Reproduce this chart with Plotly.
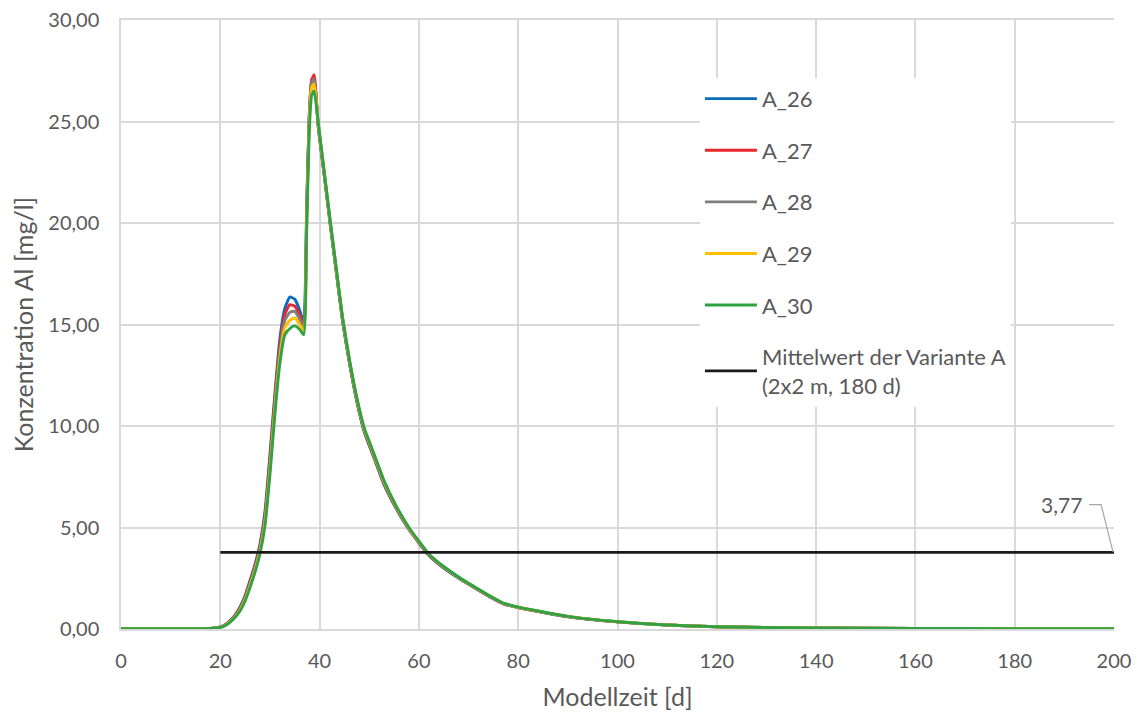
import plotly.graph_objects as go

# ---- data ----
days = [0, 10, 18, 20, 21, 22, 23, 24, 25, 26, 27, 28, 29, 30, 31, 32, 33, 34, 35, 36,
        36.8, 37.4, 37.9, 38.4, 38.9, 39.7, 41, 42.2, 43.3, 44.6, 46, 47.5, 49, 51, 53,
        55.5, 58, 62, 65, 70, 77, 80, 90, 100, 110, 120, 140, 160, 180, 200]

a26 = [0.02, 0.02, 0.03, 0.10, 0.22, 0.42, 0.70, 1.10, 1.65, 2.40, 3.20, 4.20, 5.80, 8.60,
       11.60, 14.30, 15.80, 16.35, 16.25, 15.70, 15.10, 20.80, 25.20, 27.00, 27.20, 24.80,
       22.20, 19.80, 17.70, 15.20, 13.10, 11.20, 9.70, 8.40, 7.10, 5.90, 4.90, 3.62, 3.00,
       2.20, 1.24, 1.05, 0.60, 0.35, 0.20, 0.11, 0.05, 0.03, 0.02, 0.02]
a27 = [0.02, 0.02, 0.03, 0.09, 0.20, 0.40, 0.67, 1.05, 1.58, 2.32, 3.10, 4.08, 5.60, 8.35,
       11.35, 14.00, 15.50, 15.98, 15.90, 15.45, 14.95, 20.60, 25.20, 27.05, 27.30, 24.85,
       22.25, 19.85, 17.75, 15.25, 13.15, 11.25, 9.75, 8.45, 7.15, 5.93, 4.92, 3.64, 3.02,
       2.22, 1.25, 1.06, 0.61, 0.35, 0.20, 0.11, 0.05, 0.03, 0.02, 0.02]
a28 = [0.02, 0.02, 0.03, 0.09, 0.19, 0.38, 0.64, 1.00, 1.52, 2.24, 3.00, 3.96, 5.42, 8.10,
       11.10, 13.70, 15.20, 15.60, 15.65, 15.25, 14.85, 20.30, 25.00, 26.90, 27.10, 24.90,
       22.30, 19.90, 17.80, 15.30, 13.20, 11.30, 9.80, 8.50, 7.20, 5.96, 4.94, 3.66, 3.04,
       2.23, 1.26, 1.07, 0.61, 0.36, 0.20, 0.11, 0.05, 0.03, 0.02, 0.02]
a29 = [0.02, 0.02, 0.03, 0.08, 0.18, 0.36, 0.61, 0.95, 1.45, 2.15, 2.90, 3.84, 5.25, 7.85,
       10.85, 13.40, 14.85, 15.20, 15.32, 15.00, 14.70, 20.00, 24.80, 26.70, 26.85, 24.95,
       22.35, 19.95, 17.85, 15.35, 13.25, 11.35, 9.85, 8.55, 7.25, 6.00, 4.97, 3.68, 3.06,
       2.24, 1.27, 1.07, 0.62, 0.36, 0.20, 0.11, 0.05, 0.03, 0.02, 0.02]
a30 = [0.02, 0.02, 0.03, 0.08, 0.17, 0.34, 0.58, 0.90, 1.38, 2.05, 2.80, 3.72, 5.08, 7.60,
       10.60, 13.10, 14.50, 14.80, 14.93, 14.75, 14.50, 19.60, 24.40, 26.30, 26.50, 25.00,
       22.40, 20.00, 17.90, 15.40, 13.30, 11.40, 9.90, 8.60, 7.30, 6.03, 5.00, 3.70, 3.08,
       2.25, 1.28, 1.08, 0.62, 0.36, 0.20, 0.11, 0.05, 0.03, 0.02, 0.02]

series_names = ["A_26", "A_27", "A_28", "A_29", "A_30"]
series_values = [a26, a27, a28, a29, a30]
series_colors = ["#0A6EBD", "#E8262B", "#7F7F7F", "#FFC000", "#30A244"]

mean_name = "Mittelwert der Variante A<br>(2x2 m, 180 d)"
mean_x = [20, 200]
mean_value = 3.77
mean_label = "3,77"

x_ticks = list(range(0, 201, 20))
y_ticks = [0, 5, 10, 15, 20, 25, 30]

# ---- figure ----
FONT = "Lato, 'Open Sans', sans-serif"
TXT = "#595959"
GRID = "#D9D9D9"

fig = go.Figure()
for i, (name, vals, col) in enumerate(zip(series_names, series_values, series_colors)):
    fig.add_trace(go.Scatter(
        x=days, y=vals, name=name, mode="lines",
        line=dict(color=col, width=2.9, shape="spline", smoothing=0.5),
        legendgroup=f"g{i}",
    ))

fig.add_trace(go.Scatter(
    x=mean_x, y=[mean_value, mean_value], name=mean_name, mode="lines",
    line=dict(color="#1A1A1A", width=2.8), legendgroup="gm",
))

# data label with elbow leader line anchored at the end of the mean line
xe = mean_x[-1]
ly = mean_value + 2.36
fig.add_shape(type="path", xref="x", yref="y",
              path=f"M {xe - 5.0},{ly} L {xe - 2.6},{ly} L {xe - 0.2},{mean_value + 0.02}",
              line=dict(color="#A6A6A6", width=1.2))
fig.add_annotation(x=xe - 6.0, y=ly, text=mean_label, showarrow=False,
                   xanchor="right", yanchor="middle",
                   font=dict(family=FONT, size=21, color=TXT))

fig.update_layout(
    width=1140, height=718,
    margin=dict(l=113, r=34, t=12, b=97, autoexpand=False),
    paper_bgcolor="white", plot_bgcolor="white",
    separators=",.",
    font=dict(family=FONT, size=20, color=TXT),
    showlegend=True,
    legend=dict(
        x=0.583, y=0.905, xanchor="left", yanchor="top",
        bgcolor="white", borderwidth=0,
        font=dict(family=FONT, size=22, color=TXT),
        tracegroupgap=20, itemwidth=52,
    ),
    xaxis=dict(
        range=[0, 200], tickvals=x_ticks, ticks="",
        showgrid=True, gridcolor=GRID, gridwidth=1.5,
        showline=True, linecolor=GRID, linewidth=1.5, mirror=True,
        zeroline=False, ticklabelstandoff=13, ticklabeloverflow="allow",
        title=dict(text="Modellzeit [d]", font=dict(family=FONT, size=25, color=TXT), standoff=18),
        tickfont=dict(family=FONT, size=20, color=TXT),
    ),
    yaxis=dict(
        range=[0, 30], tickvals=y_ticks, tickformat=".2f", ticks="",
        showgrid=True, gridcolor=GRID, gridwidth=1.5,
        showline=True, linecolor=GRID, linewidth=1.5,
        zeroline=False, ticklabelstandoff=16, ticklabeloverflow="allow",
        title=dict(text="Konzentration Al [mg/l]", font=dict(family=FONT, size=25, color=TXT), standoff=16),
        tickfont=dict(family=FONT, size=20, color=TXT),
    ),
)

fig.write_html("out.html")
